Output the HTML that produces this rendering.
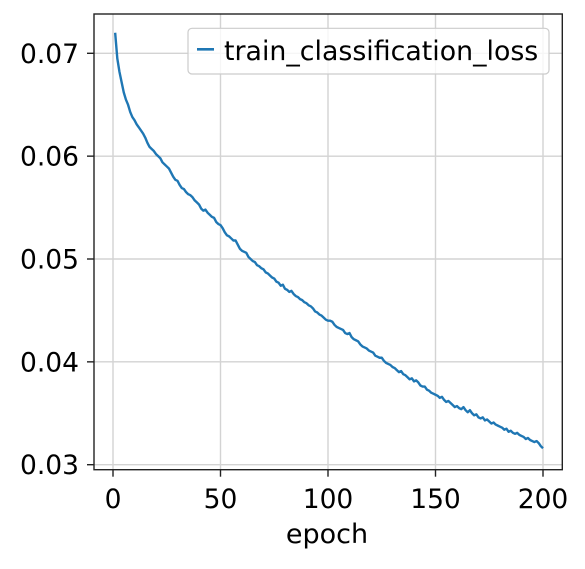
<!DOCTYPE html>
<html><head><meta charset="utf-8"><style>
body{margin:0;background:#fff}
svg text{font-family:"DejaVu Sans","Liberation Sans",sans-serif;fill:#000}
</style></head><body>
<svg id="chart" width="585" height="564" xmlns="http://www.w3.org/2000/svg">
<rect x="0" y="0" width="585" height="564" fill="#fff"/>
<g id="grid"></g>
<g id="series"></g>
<rect x="94" y="14" width="468.3" height="455.7" fill="none" stroke="#222" stroke-width="1.4"/>
<g id="axes"></g>
<text x="327" y="543" font-size="27" text-anchor="middle">epoch</text>
<g>
<rect x="188" y="28.3" width="361" height="45.7" rx="4" fill="#fff" fill-opacity="0.8" stroke="#ccc" stroke-width="1.2"/>
<line x1="197" y1="49.3" x2="214" y2="49.3" stroke="#1f77b4" stroke-width="2.6"/>
<text x="224" y="60" font-size="26.8">train_classification_loss</text>
</g>
</svg>
<script>
const loss=[.0720,.0695,.0682,.0672,.0662,.0655,.0650,.0643,.0638,.0635,
.0631,.0628,.0625,.0622,.0618,.0613,.0609,.0607,.0605,.0602,
.0600,.0598,.0594,.0592,.0590,.0588,.0584,.0580,.0577,.0576,
.0572,.0569,.0568,.0565,.0563,.0562,.0560,.0557,.0555,.0553,
.0549,.0547,.0548,.0545,.0543,.0541,.0540,.0536,.0534,.0533,
.0530,.0526,.0523,.0522,.0520,.0518,.0518,.0514,.0510,.0508,
.0507,.0506,.0502,.0500,.0498,.0497,.0494,.0493,.0491,.0490,
.0487,.0486,.0484,.0482,.0481,.0478,.0477,.0474,.0475,.0471,
.0470,.0468,.0469,.0466,.0464,.0463,.0461,.0460,.0458,.0457,
.0455,.0454,.0452,.0449,.0448,.0446,.0445,.0443,.0441,.0440,
.0440,.0439,.0436,.0434,.0433,.0432,.0431,.0428,.0427,.0428,
.0424,.0422,.0421,.0420,.0417,.0415,.0414,.0413,.0411,.0410,
.0409,.0406,.0405,.0404,.0404,.0401,.0399,.0398,.0397,.0395,
.0394,.0392,.0390,.0391,.0388,.0387,.0385,.0383,.0384,.0381,
.0382,.0380,.0377,.0376,.0376,.0373,.0372,.0370,.0369,.0368,
.0367,.0365,.0366,.0363,.0361,.0362,.0360,.0358,.0356,.0357,
.0355,.0354,.0356,.0353,.0351,.0353,.0350,.0348,.0349,.0346,
.0345,.0346,.0343,.0344,.0342,.0340,.0341,.0339,.0338,.0337,
.0336,.0334,.0335,.0332,.0333,.0331,.0330,.0331,.0329,.0328,
.0327,.0325,.0326,.0324,.0323,.0322,.0323,.0321,.0318,.0316];
const xTicks=[0,50,100,150,200];
const yTicks=[0.03,0.04,0.05,0.06,0.07];
const yTickLabels=["0.03","0.04","0.05","0.06","0.07"];
const NS="http://www.w3.org/2000/svg";
const L=94,R=562.3,T=14,B=469.7;
const X=v=>113+v*2.15;
const Y=v=>464.7-(v-0.03)*10285;
function mk(tag,attrs,parent){const e=document.createElementNS(NS,tag);for(const k in attrs)e.setAttribute(k,attrs[k]);parent.appendChild(e);return e;}
const grid=document.getElementById('grid'),axes=document.getElementById('axes'),series=document.getElementById('series');
xTicks.forEach(t=>{
 const g=mk('line',{x1:X(t),x2:X(t),y1:T,y2:B,stroke:'#d3d3d3','stroke-width':1.4},grid);
 
 
 const tk=mk('line',{x1:X(t),x2:X(t),y1:B,y2:B+7,stroke:'#222','stroke-width':1.4},axes);
 
 
 const tx=mk('text',{x:X(t),y:508,'font-size':26.5,'text-anchor':'middle'},axes);
 tx.textContent=t;
 
 
});
yTicks.forEach((t,i)=>{
 const g=mk('line',{x1:L,x2:R,y1:Y(t),y2:Y(t),stroke:'#d3d3d3','stroke-width':1.4},grid);
 
 
 const tk=mk('line',{x1:L-7,x2:L,y1:Y(t),y2:Y(t),stroke:'#222','stroke-width':1.4},axes);
 
 
 const tx=mk('text',{x:L-15,y:Y(t)+9.5,'font-size':26.5,'text-anchor':'end'},axes);
 tx.textContent=yTickLabels[i];
 
 
});
const pts=loss.map((v,i)=>X(i+1).toFixed(2)+','+Y(v).toFixed(2)).join(' ');
const line=mk('polyline',{points:pts,fill:'none',stroke:'#1f77b4','stroke-width':2.4,'stroke-linejoin':'round'},series);


</script>
</body></html>
